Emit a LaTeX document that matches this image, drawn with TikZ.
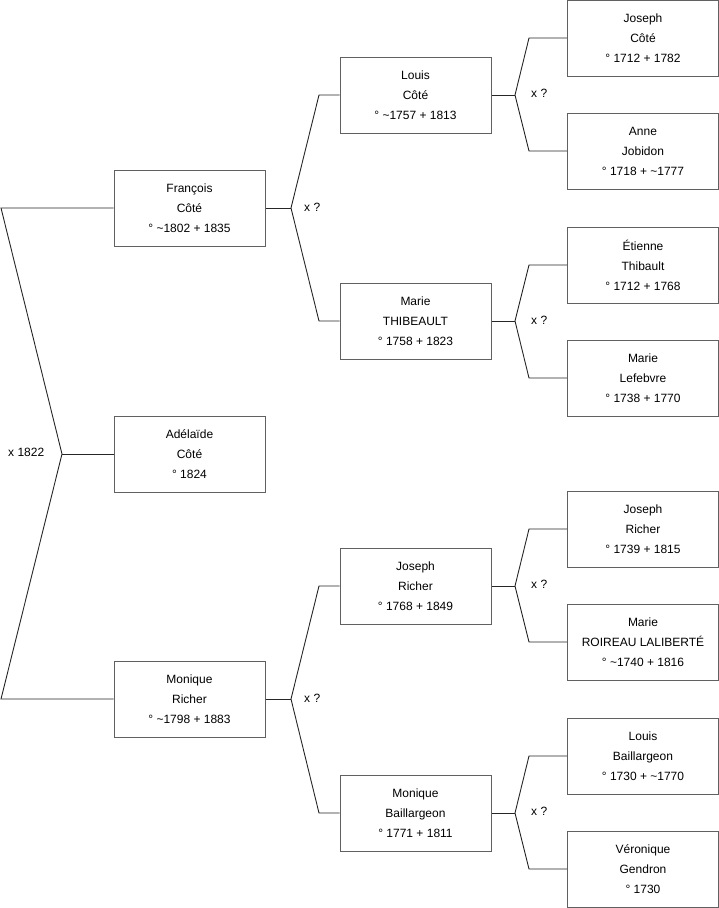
\documentclass[tikz,border=0pt]{standalone}
\usepackage{fontspec}
\setmainfont{Liberation Sans}
\begin{document}
\begin{tikzpicture}[x=1pt,y=-1pt,
  person/.style={draw=black!62, line width=1pt, minimum width=151pt, minimum height=76pt,
    inner sep=0pt, align=center, font=\fontsize{12}{20}\selectfont},
  link/.style={draw=black!85, line width=0.9pt},
  lbl/.style={font=\fontsize{12}{14}\selectfont, inner sep=0pt, anchor=west}]
\useasboundingbox (0,0) rectangle (719,908);

% generation 0 / 1
\node[person] (fc) at (189.5,208) {François\\Côté\\° \textasciitilde1802 + 1835};
\node[person] (ac) at (189.5,454) {Adélaïde\\Côté\\° 1824};
\node[person] (mr) at (189.5,699) {Monique\\Richer\\° \textasciitilde1798 + 1883};

% generation 2
\node[person] (lc) at (415.5,95) {Louis\\Côté\\° \textasciitilde1757 + 1813};
\node[person] (mt) at (415.5,321) {Marie\\THIBEAULT\\° 1758 + 1823};
\node[person] (jr) at (415.5,586) {Joseph\\Richer\\° 1768 + 1849};
\node[person] (mb) at (415.5,813) {Monique\\Baillargeon\\° 1771 + 1811};

% generation 3
\node[person] (jc) at (643,38) {Joseph\\Côté\\° 1712 + 1782};
\node[person] (aj) at (643,151) {Anne\\Jobidon\\° 1718 + \textasciitilde1777};
\node[person] (et) at (643,265) {Étienne\\Thibault\\° 1712 + 1768};
\node[person] (ml) at (643,378) {Marie\\Lefebvre\\° 1738 + 1770};
\node[person] (jrr) at (643,529) {Joseph\\Richer\\° 1739 + 1815};
\node[person] (mrl) at (643,642) {Marie\\ROIREAU LALIBERTÉ\\° \textasciitilde1740 + 1816};
\node[person] (lb) at (643,756) {Louis\\Baillargeon\\° 1730 + \textasciitilde1770};
\node[person] (vg) at (643,869) {Véronique\\Gendron\\° 1730};

% left fork (marriage of parents)
\coordinate (l0) at (1,208);
\coordinate (l1) at (62,454);
\coordinate (l2) at (1,699);
\draw[link] (fc.west) -- (l0) -- (l1) -- (l2) -- (mr.west);
\draw[link] (l1) -- (ac.west);
\node[lbl] (x0) at (8,452) {x 1822};

% middle forks
\coordinate (v1) at (291,208);
\coordinate (v1a) at (319,95);
\coordinate (v1b) at (319,321);
\draw[link] (lc.west) -- (v1a) -- (v1) -- (v1b) -- (mt.west);
\draw[link] (v1) -- (fc.east);
\node[lbl] (x1) at (304,207) {x ?};

\coordinate (v2) at (291,699);
\coordinate (v2a) at (319,586);
\coordinate (v2b) at (319,813);
\draw[link] (jr.west) -- (v2a) -- (v2) -- (v2b) -- (mb.west);
\draw[link] (v2) -- (mr.east);
\node[lbl] (x2) at (304,698) {x ?};

% right forks
\coordinate (r1) at (515,95);
\coordinate (r1a) at (529,38);
\coordinate (r1b) at (529,151);
\draw[link] (jc.west) -- (r1a) -- (r1) -- (r1b) -- (aj.west);
\draw[link] (r1) -- (lc.east);
\node[lbl] (x3) at (531,93) {x ?};

\coordinate (r2) at (515,321);
\coordinate (r2a) at (529,265);
\coordinate (r2b) at (529,378);
\draw[link] (et.west) -- (r2a) -- (r2) -- (r2b) -- (ml.west);
\draw[link] (r2) -- (mt.east);
\node[lbl] (x4) at (531,320) {x ?};

\coordinate (r3) at (515,586);
\coordinate (r3a) at (529,529);
\coordinate (r3b) at (529,642);
\draw[link] (jrr.west) -- (r3a) -- (r3) -- (r3b) -- (mrl.west);
\draw[link] (r3) -- (jr.east);
\node[lbl] (x5) at (531,584) {x ?};

\coordinate (r4) at (515,813);
\coordinate (r4a) at (529,756);
\coordinate (r4b) at (529,869);
\draw[link] (lb.west) -- (r4a) -- (r4) -- (r4b) -- (vg.west);
\draw[link] (r4) -- (mb.east);
\node[lbl] (x6) at (531,811) {x ?};
\end{tikzpicture}
\end{document}
